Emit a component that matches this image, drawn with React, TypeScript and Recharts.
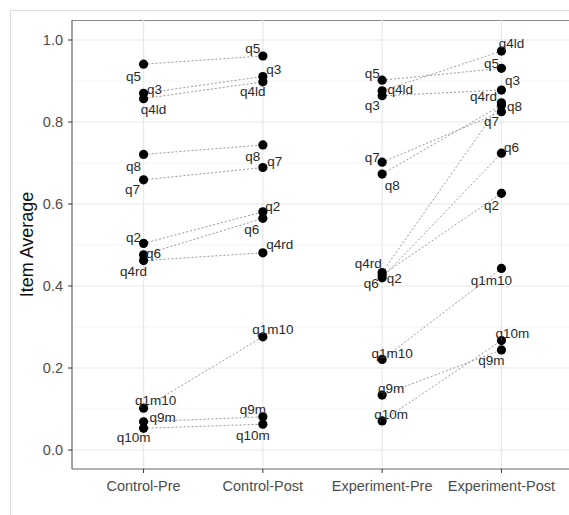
import React from 'react';
import { ScatterChart, Scatter, XAxis, YAxis, CartesianGrid } from 'recharts';

const conditions = ['Control-Pre', 'Control-Post', 'Experiment-Pre', 'Experiment-Post'];
const items = ['q1m10', 'q2', 'q3', 'q4ld', 'q4rd', 'q5', 'q6', 'q7', 'q8', 'q9m', 'q10m'];
const controlPre = [0.102, 0.504, 0.870, 0.857, 0.462, 0.941, 0.476, 0.659, 0.721, 0.069, 0.053];
const controlPost = [0.276, 0.581, 0.911, 0.898, 0.481, 0.961, 0.565, 0.689, 0.744, 0.081, 0.063];
const experimentPre = [0.221, 0.427, 0.864, 0.876, 0.433, 0.902, 0.420, 0.702, 0.673, 0.134, 0.071];
const experimentPost = [0.443, 0.626, 0.878, 0.973, 0.847, 0.931, 0.724, 0.825, 0.841, 0.244, 0.267];
const yTicks = [0, 0.2, 0.4, 0.6, 0.8, 1.0];
const yMinor = [0.1, 0.3, 0.5, 0.7, 0.9];

// label nudges (px) per condition, keyed by item: [dx, dy]
const labelNudge: Record<string, [number, number]>[] = [
  {
    q1m10: [12, -8], q2: [-10, -6], q3: [11, -4], q4ld: [10, 11], q4rd: [-10, 11], q5: [-10, 12],
    q6: [10, -1], q7: [-11, 10], q8: [-10, 12], q9m: [19, -4], q10m: [-10, 9],
  },
  {
    q1m10: [10, -7], q2: [10, -5], q3: [11, -7], q4ld: [-10, 10], q4rd: [17, -8], q5: [-10, -7],
    q6: [-11, 11], q7: [12, -6], q8: [-10, 12], q9m: [-10, -7], q10m: [-10, 11],
  },
  {
    q1m10: [10, -6], q2: [12, 4], q3: [-10, 10], q4ld: [18, -1], q4rd: [-14, -9], q5: [-10, -7],
    q6: [-11, 6], q7: [-10, -5], q8: [10, 11], q9m: [9, -7], q10m: [9, -6],
  },
  {
    q1m10: [-10, 12], q2: [-10, 12], q3: [11, -10], q4ld: [10, -8], q4rd: [-18, -6], q5: [-10, -5],
    q6: [10, -6], q7: [-10, 10], q8: [13, 1], q9m: [-10, 11], q10m: [11, -7],
  },
];

const series = [controlPre, controlPost, experimentPre, experimentPost];

const points = series.flatMap((vals, c) =>
  items.map((item, i) => ({ x: c + 1, y: vals[i], item, c }))
);

const pairs = items.flatMap((item, i) => [
  { key: `${item}-control`, data: [{ x: 1, y: controlPre[i] }, { x: 2, y: controlPost[i] }] },
  { key: `${item}-experiment`, data: [{ x: 3, y: experimentPre[i] }, { x: 4, y: experimentPost[i] }] },
]);

const FONT = '"Liberation Sans", Arial, Helvetica, sans-serif';

const Dot = (props: any) => {
  const { cx, cy } = props;
  if (cx == null || cy == null) return <g />;
  return <circle cx={cx} cy={cy} r={4.6} fill="#000" />;
};

const LabelShape = (props: any) => {
  const { cx, cy, payload } = props;
  if (cx == null || cy == null || !payload) return <g />;
  const [dx, dy] = labelNudge[payload.c][payload.item] || [0, 0];
  return (
    <text
      x={cx + dx}
      y={cy + dy}
      textAnchor="middle"
      dominantBaseline="central"
      fontSize={13.5}
      fill="#2a2a2a"
      fontFamily={FONT}
    >
      {payload.item}
    </text>
  );
};

const Empty = () => <g />;

export default function App() {
  return (
    <div style={{ position: 'absolute', left: 0, top: 0, width: 569, height: 515, overflow: 'hidden', background: '#fff' }}>
      <div style={{ position: 'absolute', left: 10, top: 10, width: 600, height: 600, borderLeft: '1px solid #dcdcdc', borderTop: '1px solid #dcdcdc' }} />
      <div style={{ position: 'absolute', left: 72, top: 20, width: 520, height: 0, borderTop: '1px solid #888' }} />
      <div style={{ position: 'absolute', left: 0, top: 0 }}>
        <ScatterChart
          width={580}
          height={515}
          margin={{ top: 20, right: 7, bottom: 16, left: 10 }}
          style={{ fontFamily: FONT }}
        >
          <CartesianGrid horizontalValues={yMinor} vertical={false} stroke="#f4f4f4" strokeWidth={1} />
          <CartesianGrid horizontalValues={yTicks} verticalValues={[1, 2, 3, 4]} stroke="#e8e8e8" strokeWidth={1.2} />
          <XAxis
            type="number"
            dataKey="x"
            domain={[0.4, 4.6]}
            allowDataOverflow
            ticks={[1, 2, 3, 4]}
            tickFormatter={(v: number) => conditions[v - 1]}
            height={30}
            tickSize={4}
            tickMargin={8}
            axisLine={{ stroke: '#666', strokeWidth: 1.2 }}
            tickLine={{ stroke: '#333' }}
            tick={{ fill: '#4d4d4d', fontSize: 14.5 }}
            interval={0}
          />
          <YAxis
            type="number"
            dataKey="y"
            domain={[-0.0463, 1.0488]}
            allowDataOverflow
            ticks={yTicks}
            tickFormatter={(v: number) => v.toFixed(1)}
            width={62}
            tickSize={4}
            tickMargin={5}
            axisLine={{ stroke: '#666', strokeWidth: 1.2 }}
            tickLine={{ stroke: '#333' }}
            tick={{ fill: '#4d4d4d', fontSize: 14.5 }}
            label={{ value: 'Item Average', angle: -90, position: 'center', dx: -14, fill: '#111', fontSize: 18 }}
          />
          {pairs.map((p) => (
            <Scatter
              key={p.key}
              data={p.data}
              line={{ stroke: '#9a9a9a', strokeWidth: 1, strokeDasharray: '2 2' }}
              lineType="joint"
              shape={Empty}
              isAnimationActive={false}
            />
          ))}
          <Scatter data={points} shape={Dot} isAnimationActive={false} />
          <Scatter data={points} shape={LabelShape} isAnimationActive={false} />
        </ScatterChart>
      </div>
    </div>
  );
}
